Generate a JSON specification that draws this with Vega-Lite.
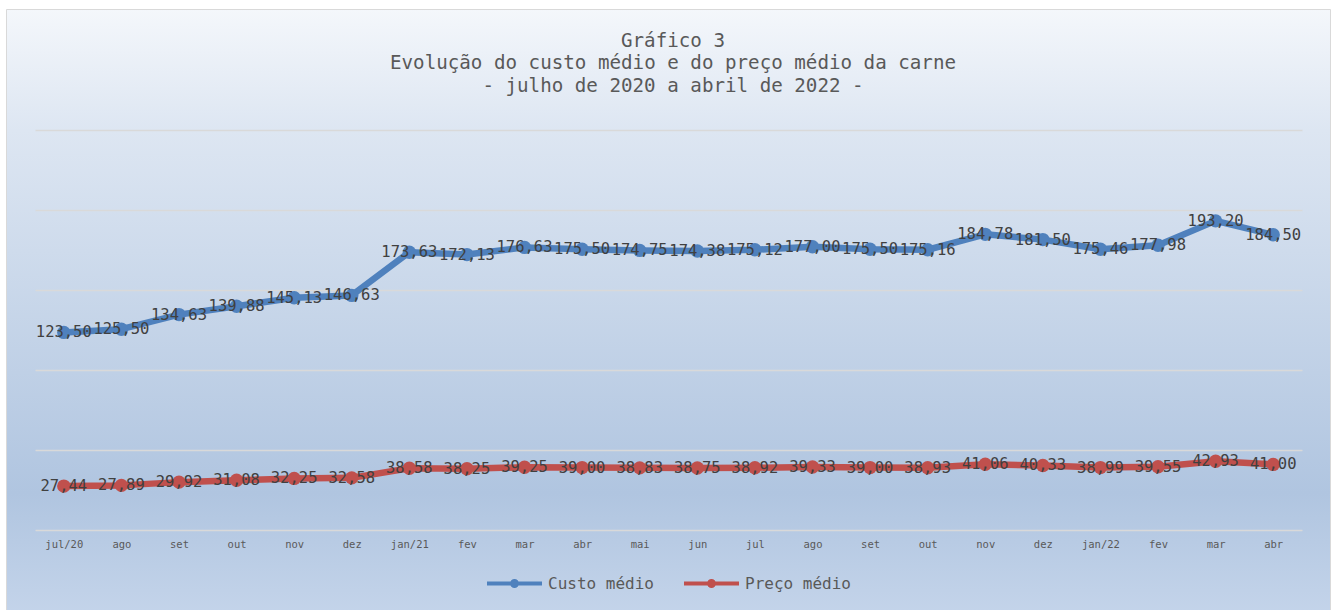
{
  "$schema": "https://vega.github.io/schema/vega-lite/v6.json",
  "width": 1324,
  "height": 605,
  "autosize": {"type": "none"},
  "padding": {"left": 6, "top": 9, "right": 5, "bottom": 0},
  "background": "#ffffff",
  "view": {
    "fill": {"gradient": "linear", "x1": 0, "y1": 0, "x2": 0, "y2": 1,
      "stops": [
        {"offset": 0, "color": "#f4f7fb"},
        {"offset": 0.2, "color": "#dde6f2"},
        {"offset": 0.8, "color": "#b0c5e0"},
        {"offset": 1, "color": "#c4d4ea"}
      ]},
    "stroke": "#d9d9d9",
    "strokeWidth": 1
  },
  "config": {
    "font": "DejaVu Sans Mono",
    "legend": {"layout": {"bottom": {"anchor": "middle"}}},
    "locale": {
      "number": {"decimal": ",", "thousands": ".", "grouping": [3], "currency": ["R$ ", ""]},
      "time": {
        "dateTime": "%A, %e de %B de %Y. %X", "date": "%d/%m/%Y", "time": "%H:%M:%S", "periods": ["AM", "PM"],
        "days": ["Domingo", "Segunda", "Terça", "Quarta", "Quinta", "Sexta", "Sábado"],
        "shortDays": ["Dom", "Seg", "Ter", "Qua", "Qui", "Sex", "Sáb"],
        "months": ["Janeiro", "Fevereiro", "Março", "Abril", "Maio", "Junho", "Julho", "Agosto", "Setembro", "Outubro", "Novembro", "Dezembro"],
        "shortMonths": ["jan", "fev", "mar", "abr", "mai", "jun", "jul", "ago", "set", "out", "nov", "dez"]
      }
    }
  },
  "title": {
    "text": ["Gráfico 3", "Evolução do custo médio e do preço médio da carne", "- julho de 2020 a abril de 2022 -"],
    "anchor": "middle",
    "frame": "group",
    "offset": -87,
    "dx": 5,
    "font": "DejaVu Sans Mono",
    "fontSize": 19.2,
    "fontWeight": "normal",
    "color": "#595959",
    "lineHeight": 22.5
  },
  "data": {
    "values": [
      {"mes": "2020-07-01", "serie": "Custo médio", "valor": 123.50},
      {"mes": "2020-08-01", "serie": "Custo médio", "valor": 125.50},
      {"mes": "2020-09-01", "serie": "Custo médio", "valor": 134.63},
      {"mes": "2020-10-01", "serie": "Custo médio", "valor": 139.88},
      {"mes": "2020-11-01", "serie": "Custo médio", "valor": 145.13},
      {"mes": "2020-12-01", "serie": "Custo médio", "valor": 146.63},
      {"mes": "2021-01-01", "serie": "Custo médio", "valor": 173.63},
      {"mes": "2021-02-01", "serie": "Custo médio", "valor": 172.13},
      {"mes": "2021-03-01", "serie": "Custo médio", "valor": 176.63},
      {"mes": "2021-04-01", "serie": "Custo médio", "valor": 175.50},
      {"mes": "2021-05-01", "serie": "Custo médio", "valor": 174.75},
      {"mes": "2021-06-01", "serie": "Custo médio", "valor": 174.38},
      {"mes": "2021-07-01", "serie": "Custo médio", "valor": 175.12},
      {"mes": "2021-08-01", "serie": "Custo médio", "valor": 177.00},
      {"mes": "2021-09-01", "serie": "Custo médio", "valor": 175.50},
      {"mes": "2021-10-01", "serie": "Custo médio", "valor": 175.16},
      {"mes": "2021-11-01", "serie": "Custo médio", "valor": 184.78},
      {"mes": "2021-12-01", "serie": "Custo médio", "valor": 181.50},
      {"mes": "2022-01-01", "serie": "Custo médio", "valor": 175.46},
      {"mes": "2022-02-01", "serie": "Custo médio", "valor": 177.98},
      {"mes": "2022-03-01", "serie": "Custo médio", "valor": 193.20},
      {"mes": "2022-04-01", "serie": "Custo médio", "valor": 184.50},
      {"mes": "2020-07-01", "serie": "Preço médio", "valor": 27.44},
      {"mes": "2020-08-01", "serie": "Preço médio", "valor": 27.89},
      {"mes": "2020-09-01", "serie": "Preço médio", "valor": 29.92},
      {"mes": "2020-10-01", "serie": "Preço médio", "valor": 31.08},
      {"mes": "2020-11-01", "serie": "Preço médio", "valor": 32.25},
      {"mes": "2020-12-01", "serie": "Preço médio", "valor": 32.58},
      {"mes": "2021-01-01", "serie": "Preço médio", "valor": 38.58},
      {"mes": "2021-02-01", "serie": "Preço médio", "valor": 38.25},
      {"mes": "2021-03-01", "serie": "Preço médio", "valor": 39.25},
      {"mes": "2021-04-01", "serie": "Preço médio", "valor": 39.00},
      {"mes": "2021-05-01", "serie": "Preço médio", "valor": 38.83},
      {"mes": "2021-06-01", "serie": "Preço médio", "valor": 38.75},
      {"mes": "2021-07-01", "serie": "Preço médio", "valor": 38.92},
      {"mes": "2021-08-01", "serie": "Preço médio", "valor": 39.33},
      {"mes": "2021-09-01", "serie": "Preço médio", "valor": 39.00},
      {"mes": "2021-10-01", "serie": "Preço médio", "valor": 38.93},
      {"mes": "2021-11-01", "serie": "Preço médio", "valor": 41.06},
      {"mes": "2021-12-01", "serie": "Preço médio", "valor": 40.33},
      {"mes": "2022-01-01", "serie": "Preço médio", "valor": 38.99},
      {"mes": "2022-02-01", "serie": "Preço médio", "valor": 39.55},
      {"mes": "2022-03-01", "serie": "Preço médio", "valor": 42.93},
      {"mes": "2022-04-01", "serie": "Preço médio", "valor": 41.00}
    ]
  },
  "encoding": {
    "x": {
      "field": "mes", "type": "ordinal", "timeUnit": "utcyearmonth", "title": null,
      "scale": {"type": "point", "range": [29, 1296], "padding": 0.5},
      "axis": {
        "orient": "bottom", "offset": -84, "domain": false, "ticks": false, "grid": false,
        "labelPadding": 9, "labelFont": "DejaVu Sans Mono", "labelFontSize": 10.5, "labelColor": "#595959", "labelAngle": 0,
        "labelExpr": "datum.index == 0 || utcmonth(datum.value) == 0 ? utcFormat(datum.value, '%b/%y') : utcFormat(datum.value, '%b')"
      }
    },
    "y": {
      "field": "valor", "type": "quantitative", "title": null,
      "scale": {"domain": [-52.5, 325.625], "nice": false, "zero": false},
      "axis": {"values": [0, 50, 100, 150, 200, 250], "labels": false, "ticks": false, "domain": false, "grid": true, "gridColor": "#d9d9d9", "gridWidth": 1.5}
    },
    "color": {
      "field": "serie", "type": "nominal",
      "scale": {"domain": ["Custo médio", "Preço médio"], "range": ["#4f81bd", "#c0504d"]},
      "legend": {
        "orient": "bottom", "offset": -60, "title": null, "direction": "horizontal",
        "symbolType": "M-1,0L1,0M0.09,0A0.09,0.09,0,1,1,-0.09,0A0.09,0.09,0,1,1,0.09,0Z",
        "symbolSize": 3025, "symbolStrokeWidth": 4,
        "labelFont": "DejaVu Sans Mono", "labelFontSize": 16, "labelColor": "#595959", "labelOffset": 4, "columnPadding": 22,
        "encode": {"symbols": {"update": {"fill": {"scale": "color", "field": "value"}, "stroke": {"scale": "color", "field": "value"}, "opacity": {"value": 1}}}}
      }
    }
  },
  "layer": [
    {"mark": {"type": "line", "strokeWidth": 6.5, "strokeCap": "round", "strokeJoin": "round"}},
    {"mark": {"type": "point", "filled": true, "shape": "circle", "size": 180, "opacity": 1}},
    {
      "mark": {"type": "text", "font": "DejaVu Sans Mono", "fontSize": 15.5},
      "encoding": {
        "text": {"field": "valor", "type": "quantitative", "format": ".2f"},
        "color": {"value": "#404040"}
      }
    }
  ]
}
